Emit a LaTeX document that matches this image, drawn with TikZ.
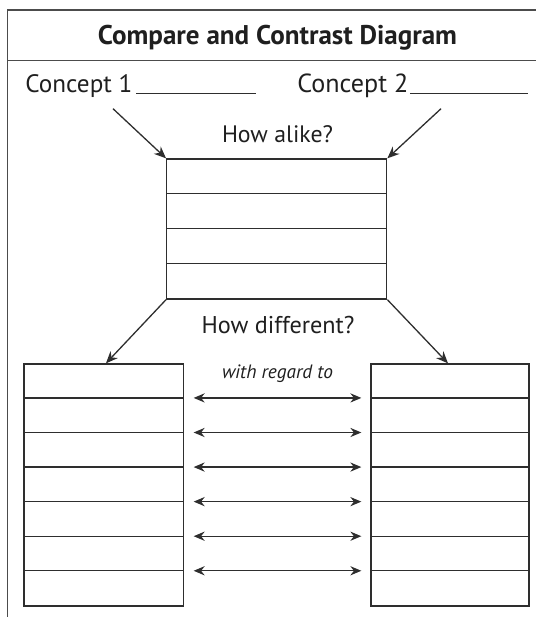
\documentclass[tikz,border=0pt]{standalone}
\usepackage{fontspec}
\setmainfont{PT Sans}
\usetikzlibrary{arrows.meta}
\newlength\fitlen
\newcommand\fitto[3]{% #1 target width (bp), #2 font switches, #3 text
  \settowidth\fitlen{\fontsize{10}{12}\selectfont #2#3}%
  \pgfmathsetmacro\fitsz{10*#1*1.00375/\fitlen}%
  {\fontsize{\fitsz}{\fitsz}\selectfont #2#3}}
\begin{document}
\begin{tikzpicture}[x=0.5bp,y=-0.5bp,
  ln/.style={draw=black!82, line width=0.65bp},
  frameline/.style={draw=black!70, line width=0.95bp},
  box/.style={ln, rectangle, inner sep=0pt},
  arr/.style={ln, -{Stealth[length=6bp,width=5bp]}},
  darr/.style={ln, {Stealth[length=5.5bp,width=4.6bp]}-{Stealth[length=5.5bp,width=4.6bp]}},
  lbl/.style={inner sep=0pt, text=black!88},
  uline/.style={draw=black!82, line width=0.75bp},
  ]
\useasboundingbox (0,0) rectangle (536,617);

% outer frame and header separator
\coordinate (fbl) at (7.5,617);
\coordinate (ftl) at (7.5,9.6);
\coordinate (ftr) at (536,9.6);
\coordinate (fsl) at (7.5,60.5);
\coordinate (fsr) at (536,60.5);
\draw[frameline] (fbl) -- (ftl) -- (ftr);
\draw[frameline] (fsl) -- (fsr);

% title
\node[lbl, anchor=base] (title) at (277.5,45) {\fitto{179.5}{\bfseries}{Compare and Contrast Diagram}};

% concept labels with blanks
\node[lbl, anchor=base west] (c1) at (25,93) {\fitto{53.5}{}{Concept 1}};
\node[lbl, anchor=base west] (c2) at (297,93) {\fitto{55.5}{}{Concept 2}};
\coordinate (u1a) at (136,93.5);
\coordinate (u1b) at (256,93.5);
\coordinate (u2a) at (410,93.5);
\coordinate (u2b) at (528,93.5);
\draw[uline] (u1a) -- (u1b);
\draw[uline] (u2a) -- (u2b);

% how alike box
\node[lbl, anchor=base] (alikelbl) at (277.5,143) {\fitto{55.5}{}{How alike?}};
\node[box, draw, minimum width=110bp, minimum height=70bp] (alike) at (276.7,229) {};
\foreach \i in {1,2,3}{
  \draw[ln] ([yshift=-\i*17.5bp]alike.north west) -- ([yshift=-\i*17.5bp]alike.north east);
}
\coordinate (a1) at (113,108.7);
\coordinate (a2) at (441,108.7);
\draw[arr] (a1) -- (alike.north west);
\draw[arr] (a2) -- (alike.north east);

% how different
\node[lbl, anchor=base] (difflbl) at (278,333) {\fitto{76.5}{}{How different?}};
\node[lbl, anchor=base] (regard) at (277.5,378) {\fitto{55.5}{\itshape}{with regard to}};

\node[box, draw, minimum width=79.75bp, minimum height=121bp] (left) at (103.75,485) {};
\node[box, draw, minimum width=79bp, minimum height=121bp] (right) at (450,485) {};
\foreach \i in {1,...,6}{
  \draw[ln] ([yshift=-\i*17.2857bp]left.north west) -- ([yshift=-\i*17.2857bp]left.north east);
  \draw[ln] ([yshift=-\i*17.2857bp]right.north west) -- ([yshift=-\i*17.2857bp]right.north east);
  \draw[darr] ([xshift=4.75bp, yshift=-\i*17.2857bp]left.north east) -- ([xshift=-4.5bp, yshift=-\i*17.2857bp]right.north west);
}
\draw[arr] (alike.south west) -- ([xshift=1.1bp]left.north);
\draw[arr] (alike.south east) -- ([xshift=-1bp]right.north);
\end{tikzpicture}
\end{document}
